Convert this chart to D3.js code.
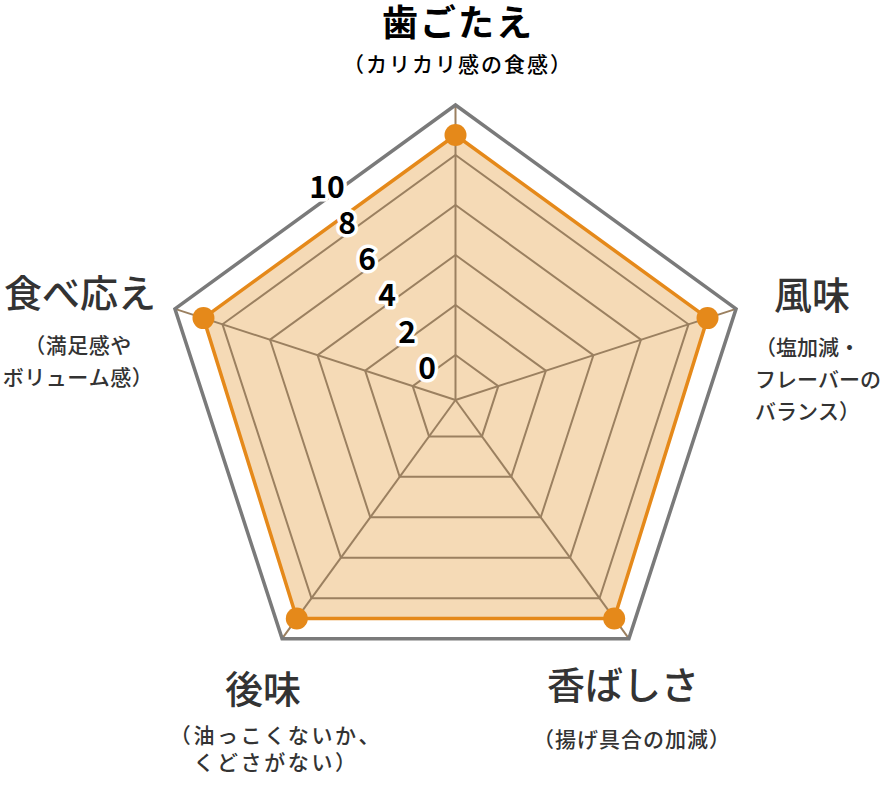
<!DOCTYPE html>
<html>
<head>
<meta charset="utf-8">
<script src="https://cdn.jsdelivr.net/npm/d3@7"></script>
<style>
  html, body { margin: 0; padding: 0; background: #fff; }
  #chart { width: 880px; height: 788px; }
  text {
    font-family: "Noto Sans CJK JP", "Noto Sans", sans-serif;
    font-kerning: none;
  }
</style>
</head>
<body>
<div id="chart"></div>
<script>
// axis names, clockwise from the top
var axes = ['歯ごたえ', '風味', '香ばしさ', '後味', '食べ応え'];

var notes = [
  ['（カリカリ感の食感）'],
  ['（塩加減・', 'フレーバーの', 'バランス）'],
  ['（揚げ具合の加減）'],
  ['（油っこくないか、', 'くどさがない）'],
  ['（満足感や', 'ボリューム感）']
];

var values = [8.8, 8.8, 9.0, 9.0, 8.8];

var ticks = [0, 2, 4, 6, 8, 10];

var width = 880;
var height = 788;
var cx = 455.5;
var cy = 400;

var svg = d3.select('#chart')
  .append('svg')
    .attr('width', width)
    .attr('height', height);

var r = d3.scaleLinear()
  .domain([0, 10])
  .range([45, 295]);

var angle = d3.scalePoint()
  .domain(axes)
  .range([0, 2 * Math.PI * 4 / 5]);

function point(name, v) {
  var a = angle(name);
  return [cx + r(v) * Math.sin(a), cy - r(v) * Math.cos(a)];
}

var line = d3.line();

function ring(v) {
  return line(axes.map(function (d) { return point(d, v); })) + 'Z';
}

var g = svg.append('g');

// data area
g.append('path')
    .attr('d', line(axes.map(function (d, i) { return point(d, values[i]); })) + 'Z')
    .attr('fill', '#f5dab6')
    .attr('stroke', 'none');

// inner rings
g.selectAll('.ring')
    .data(ticks.filter(function (t) { return t < 10; }))
    .enter()
  .append('path')
    .attr('class', 'ring')
    .attr('d', ring)
    .attr('fill', 'none')
    .attr('stroke', '#9b8060')
    .attr('stroke-width', 2);

// spokes
g.selectAll('.spoke')
    .data(axes)
    .enter()
  .append('line')
    .attr('class', 'spoke')
    .attr('x1', cx)
    .attr('y1', cy)
    .attr('x2', function (d) { return point(d, 10)[0]; })
    .attr('y2', function (d) { return point(d, 10)[1]; })
    .attr('stroke', '#9b8060')
    .attr('stroke-width', 2);

// outer ring
g.append('path')
    .attr('d', ring(10))
    .attr('fill', 'none')
    .attr('stroke', '#7a7a7a')
    .attr('stroke-width', 3.5);

// data outline
g.append('path')
    .attr('d', line(axes.map(function (d, i) { return point(d, values[i]); })) + 'Z')
    .attr('fill', 'none')
    .attr('stroke', '#e5891a')
    .attr('stroke-width', 3.5);

g.selectAll('.dot')
    .data(values)
    .enter()
  .append('circle')
    .attr('class', 'dot')
    .attr('cx', function (d, i) { return point(axes[i], d)[0]; })
    .attr('cy', function (d, i) { return point(axes[i], d)[1]; })
    .attr('r', 11)
    .attr('fill', '#e5891a');

// tick labels run up the upper left
var tx = d3.scaleLinear().domain([0, 10]).range([427, 327]);
var ty = d3.scaleLinear().domain([0, 10]).range([366, 184.7]);

var tickLabels = g.selectAll('.tick')
    .data(ticks)
    .enter()
  .append('g')
    .attr('class', 'tick');

tickLabels.append('text')
    .attr('x', tx)
    .attr('y', ty)
    .attr('text-anchor', 'middle')
    .attr('dominant-baseline', 'central')
    .attr('font-size', 30)
    .attr('font-weight', 700)
    .attr('stroke', '#fff')
    .attr('stroke-width', 7)
    .attr('stroke-linejoin', 'round')
    .attr('fill', '#fff')
    .text(function (d) { return d; });

tickLabels.append('text')
    .attr('x', tx)
    .attr('y', ty)
    .attr('text-anchor', 'middle')
    .attr('dominant-baseline', 'central')
    .attr('font-size', 30)
    .attr('font-weight', 700)
    .attr('fill', '#000')
    .text(function (d) { return d; });

// axis labels: title position, note anchor, line positions and spacing
var layout = [
  { x: 458, y: 19.5, size: 36, ts: 2, bold: true, nx: 458, anchor: 'middle', ny: [62.5], ls: 2 },
  { x: 812, y: 292.5, size: 38, ts: 0, nx: 755, anchor: 'start', ny: [346, 377.5, 410], ls: 0 },
  { x: 623, y: 682.5, size: 38, ts: 0, nx: 632, anchor: 'middle', ny: [737.5], ls: 1 },
  { x: 263, y: 686.5, size: 38, ts: 0, nx: 276, anchor: 'middle', ny: [734, 761], ls: 2.6 },
  { x: 80, y: 290, size: 38, ts: 0, nx: 78, anchor: 'middle', ny: [344, 376], ls: 0.5 }
];

var labels = svg.selectAll('.label')
    .data(axes)
    .enter()
  .append('g')
    .attr('class', 'label');

labels.append('text')
    .attr('x', function (d, i) { return layout[i].x; })
    .attr('y', function (d, i) { return layout[i].y; })
    .attr('text-anchor', 'middle')
    .attr('dominant-baseline', 'central')
    .attr('font-size', function (d, i) { return layout[i].size; })
    .attr('letter-spacing', function (d, i) { return layout[i].ts; })
    .attr('font-weight', function (d, i) { return layout[i].bold ? 700 : 500; })
    .attr('fill', function (d, i) { return layout[i].bold ? '#000' : '#333'; })
    .text(function (d) { return d; });

labels.each(function (d, i) {
  d3.select(this).selectAll('.note')
      .data(notes[i])
      .enter()
    .append('text')
      .attr('class', 'note')
      .attr('x', layout[i].nx)
      .attr('y', function (e, j) { return layout[i].ny[j]; })
      .attr('text-anchor', layout[i].anchor)
      .attr('dominant-baseline', 'central')
      .attr('font-size', 21)
      .attr('font-weight', 500)
      .attr('letter-spacing', layout[i].ls)
      .attr('fill', layout[i].bold ? '#000' : '#333')
      .text(function (e) { return e; });
});
</script>
</body>
</html>
